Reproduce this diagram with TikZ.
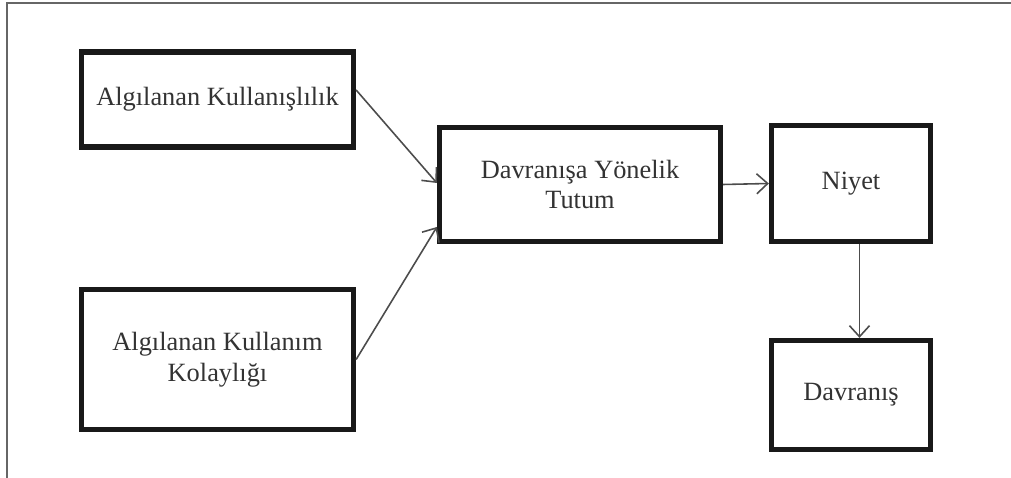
\documentclass[tikz,border=0pt]{standalone}
\usepackage{fontspec}
\setmainfont{Liberation Serif}
\usetikzlibrary{arrows.meta}
\begin{document}
\begin{tikzpicture}[
  box/.style={draw=black!90, line width=3pt, align=center, text=black!80, font=\fontsize{15}{17.5}\selectfont},
  arr/.style={draw=black!70, line width=0.9pt, -{Straight Barb[length=2.2mm,width=4mm]}}]
\useasboundingbox (0,0) rectangle (20.22,9.56);
\draw[black!60, line width=0.8pt] (0.14,0) -- (0.14,9.5) -- (20.22,9.5);

\node[box, minimum width=5.44cm, minimum height=1.9cm] (b1) at (4.35,7.57) {Algılanan Kullanışlılık};
\node[box, minimum width=5.44cm, minimum height=2.8cm] (b2) at (4.35,2.37) {Algılanan Kullanım\\Kolaylığı};
\node[box, minimum width=5.62cm, minimum height=2.28cm] (b3) at (11.6,5.87) {Davranışa Yönelik\\Tutum};
\node[box, minimum width=3.18cm, minimum height=2.32cm] (b4) at (17.02,5.89) {Niyet};
\node[box, minimum width=3.18cm, minimum height=2.18cm] (b5) at (17.02,1.66) {Davranış};

\draw[arr] ([yshift=0.19cm]b1.east) -- ([yshift=0.03cm]b3.west);
\draw[arr] (b2.east) -- ([yshift=-0.85cm]b3.west);
\draw[arr] (b3.east) -- (b4.west);
\draw[arr] ([xshift=0.17cm]b4.south) -- ([xshift=0.17cm]b5.north);
\end{tikzpicture}
\end{document}
